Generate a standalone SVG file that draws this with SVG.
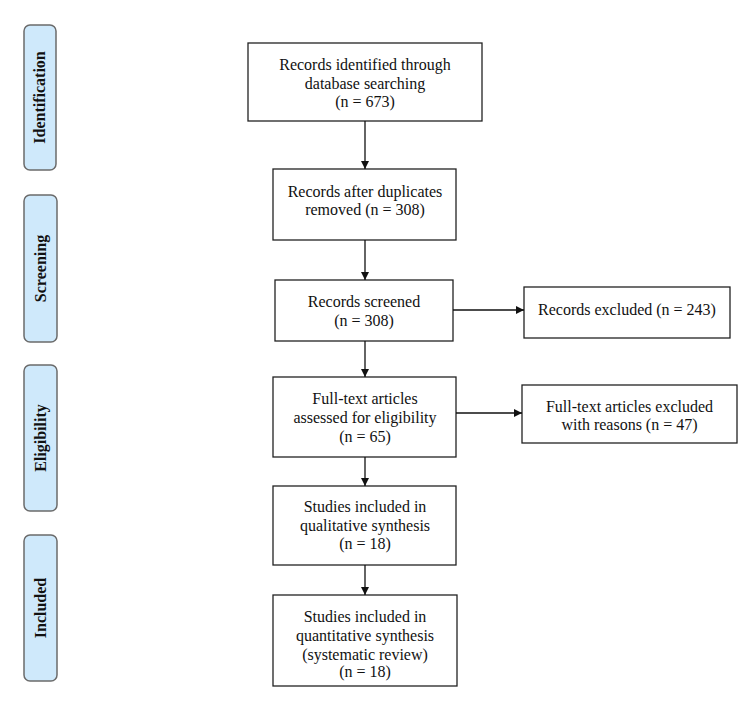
<svg xmlns="http://www.w3.org/2000/svg" width="750" height="711" viewBox="0 0 750 711">
<style>
.stage{fill:#cfe9fb;stroke:#6b6b6b;stroke-width:1.5}
.stxt{font-family:"Liberation Serif","Times New Roman",Tinos,"DejaVu Serif",serif;font-weight:bold;font-size:16px;fill:#111;text-anchor:middle}
.box{fill:#fff;stroke:#222;stroke-width:1.3}
.t{font-family:"Liberation Serif","Times New Roman",Tinos,"DejaVu Serif",serif;font-size:16px;fill:#111;text-anchor:middle}
.c{stroke:#111;stroke-width:1.3;fill:none}
</style>
<defs>
<marker id="ah" viewBox="0 0 10 10" refX="10" refY="5" markerWidth="8" markerHeight="8" markerUnits="userSpaceOnUse" orient="auto">
<path d="M0,0 L10,5 L0,10 z" fill="#111"/>
</marker>
</defs>
<rect width="750" height="711" fill="#fff"/>
<g id="stage-identification"><rect class="stage" x="24" y="25" width="32" height="145" rx="6"/><text class="stxt" transform="translate(45,97.5) rotate(-90)">Identification</text></g>
<g id="stage-screening"><rect class="stage" x="24" y="195" width="33" height="147" rx="6"/><text class="stxt" transform="translate(46,268.5) rotate(-90)">Screening</text></g>
<g id="stage-eligibility"><rect class="stage" x="24" y="365" width="33" height="146" rx="6"/><text class="stxt" transform="translate(46,438) rotate(-90)">Eligibility</text></g>
<g id="stage-included"><rect class="stage" x="24" y="535" width="33" height="146" rx="6"/><text class="stxt" transform="translate(46,608) rotate(-90)">Included</text></g>

<g id="n1"><rect class="box" x="248" y="43" width="234" height="78"/>
<text class="t" x="365" y="70">Records identified through</text>
<text class="t" x="365" y="89">database searching</text>
<text class="t" x="365" y="107">(n = 673)</text></g>
<g id="n2"><rect class="box" x="273" y="169" width="183" height="71"/>
<text class="t" x="365" y="197">Records after duplicates</text>
<text class="t" x="365" y="215">removed (n = 308)</text></g>
<g id="n3"><rect class="box" x="275" y="280" width="178" height="61"/>
<text class="t" x="364" y="307">Records screened</text>
<text class="t" x="364" y="326">(n = 308)</text></g>
<g id="n3x"><rect class="box" x="524" y="287" width="206" height="51"/>
<text class="t" x="627" y="315">Records excluded (n = 243)</text></g>
<g id="n4"><rect class="box" x="273" y="377" width="183" height="80"/>
<text class="t" x="365" y="404">Full-text articles</text>
<text class="t" x="365" y="423">assessed for eligibility</text>
<text class="t" x="365" y="442">(n = 65)</text></g>
<g id="n4x"><rect class="box" x="522" y="385" width="215" height="58"/>
<text class="t" x="629.5" y="412">Full-text articles excluded</text>
<text class="t" x="629.5" y="430">with reasons (n = 47)</text></g>
<g id="n5"><rect class="box" x="273" y="486" width="183" height="79"/>
<text class="t" x="365" y="512">Studies included in</text>
<text class="t" x="365" y="531">qualitative synthesis</text>
<text class="t" x="365" y="549">(n = 18)</text></g>
<g id="n6"><rect class="box" x="273" y="595" width="184" height="91"/>
<text class="t" x="365" y="622">Studies included in</text>
<text class="t" x="365" y="641">quantitative synthesis</text>
<text class="t" x="365" y="660">(systematic review)</text>
<text class="t" x="365" y="677">(n = 18)</text></g>

<g id="connectors">
<line class="c" x1="365" y1="121" x2="365" y2="169" marker-end="url(#ah)"/>
<line class="c" x1="365" y1="240" x2="365" y2="280" marker-end="url(#ah)"/>
<line class="c" x1="365" y1="341" x2="365" y2="377" marker-end="url(#ah)"/>
<line class="c" x1="365" y1="457" x2="365" y2="486" marker-end="url(#ah)"/>
<line class="c" x1="365" y1="565" x2="365" y2="595" marker-end="url(#ah)"/>
<line class="c" x1="453" y1="310" x2="524" y2="310" marker-end="url(#ah)"/>
<line class="c" x1="456" y1="413" x2="522" y2="413" marker-end="url(#ah)"/>
</g>
</svg>
